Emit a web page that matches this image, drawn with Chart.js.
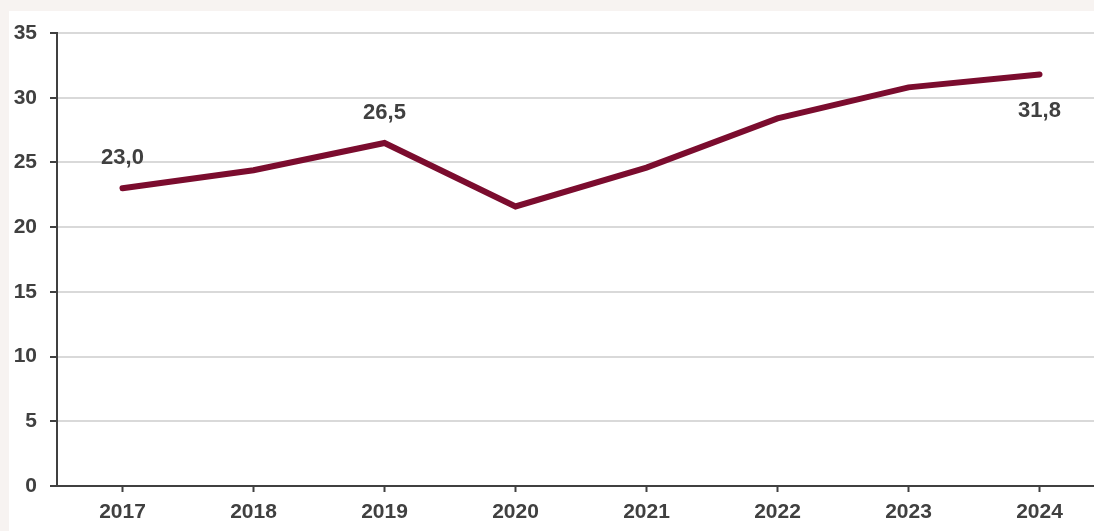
<!DOCTYPE html>
<html>
<head>
<meta charset="utf-8">
<script src="https://cdn.jsdelivr.net/npm/chart.js@4.4.1/dist/chart.umd.min.js"></script>
<style>
  html, body { margin: 0; padding: 0; background: #f7f3f1; overflow: hidden; }
  #box { position: absolute; left: 9px; top: 11px; width: 1085px; height: 520px; background: #ffffff; overflow: hidden; }
</style>
</head>
<body>
<div id="box"><canvas id="lineChart"></canvas></div>
<script>
var years = ['2017', '2018', '2019', '2020', '2021', '2022', '2023', '2024'];
var values = [23.0, 24.4, 26.5, 21.6, 24.6, 28.4, 30.8, 31.8];
var yTicks = [0, 5, 10, 15, 20, 25, 30, 35];
// which points get a value label, and where
var labelIdx = [0, 2, 7];
var labelPos = ['above', 'above', 'below'];

var textColor = '#404040';
var lineColor = '#7b0c2e';
var fontFam = '"Liberation Sans", Arial, sans-serif';

// small home-made data label plugin
var valueLabels = {
    id: 'valueLabels',
    afterDatasetsDraw: function (chart) {
        var ctx = chart.ctx;
        var meta = chart.getDatasetMeta(0);
        ctx.save();
        ctx.font = 'bold 22px ' + fontFam;
        ctx.fillStyle = textColor;
        ctx.textAlign = 'center';
        ctx.textBaseline = 'middle';
        labelIdx.forEach(function (i, k) {
            var pt = meta.data[i];
            var txt = values[i].toFixed(1).replace('.', ',');
            var dy = labelPos[k] === 'above' ? -30 : 37;
            ctx.fillText(txt, pt.x, pt.y + dy);
        });
        ctx.restore();
    }
};

const config = {
    type: 'line',
    data: {
        labels: years,
        datasets: [{
            data: values,
            borderColor: lineColor,
            borderWidth: 6,
            borderCapStyle: 'round',
            pointRadius: 0,
            tension: 0,
            fill: false
        }]
    },
    options: {
        responsive: false,
        animation: false,
        layout: {
            padding: { left: 0, right: 0, top: 22, bottom: 0 }
        },
        plugins: {
            legend: { display: false },
            tooltip: { enabled: false }
        },
        scales: {
            x: {
                offset: true,
                afterFit: function (scale) { scale.height = 45; },
                border: { color: textColor, width: 2 },
                grid: {
                    drawOnChartArea: false,
                    tickLength: 6,
                    tickColor: textColor,
                    tickWidth: 2
                },
                ticks: {
                    color: textColor,
                    padding: 8,
                    font: { family: fontFam, size: 21, weight: 'bold' }
                }
            },
            y: {
                min: 0,
                max: 35,
                afterFit: function (scale) {
                    scale.width = 48;
                    scale.paddingTop = 0;
                    scale.paddingBottom = 0;
                },
                afterBuildTicks: function (axis) {
                    axis.ticks = yTicks.map(function (v) { return { value: v }; });
                },
                border: { color: textColor, width: 2 },
                grid: {
                    color: '#d9d9d9',
                    lineWidth: 2,
                    tickLength: 7,
                    tickColor: textColor,
                    tickWidth: 2
                },
                ticks: {
                    color: textColor,
                    padding: 13,
                    font: { family: fontFam, size: 21, weight: 'bold' }
                }
            }
        }
    },
    plugins: [valueLabels]
};

// canvas runs a bit past the white panel, as the plot does in the original
var canvas = document.getElementById('lineChart');
canvas.width = 1096;
canvas.height = 520;
new Chart(canvas, config);
</script>
</body>
</html>
